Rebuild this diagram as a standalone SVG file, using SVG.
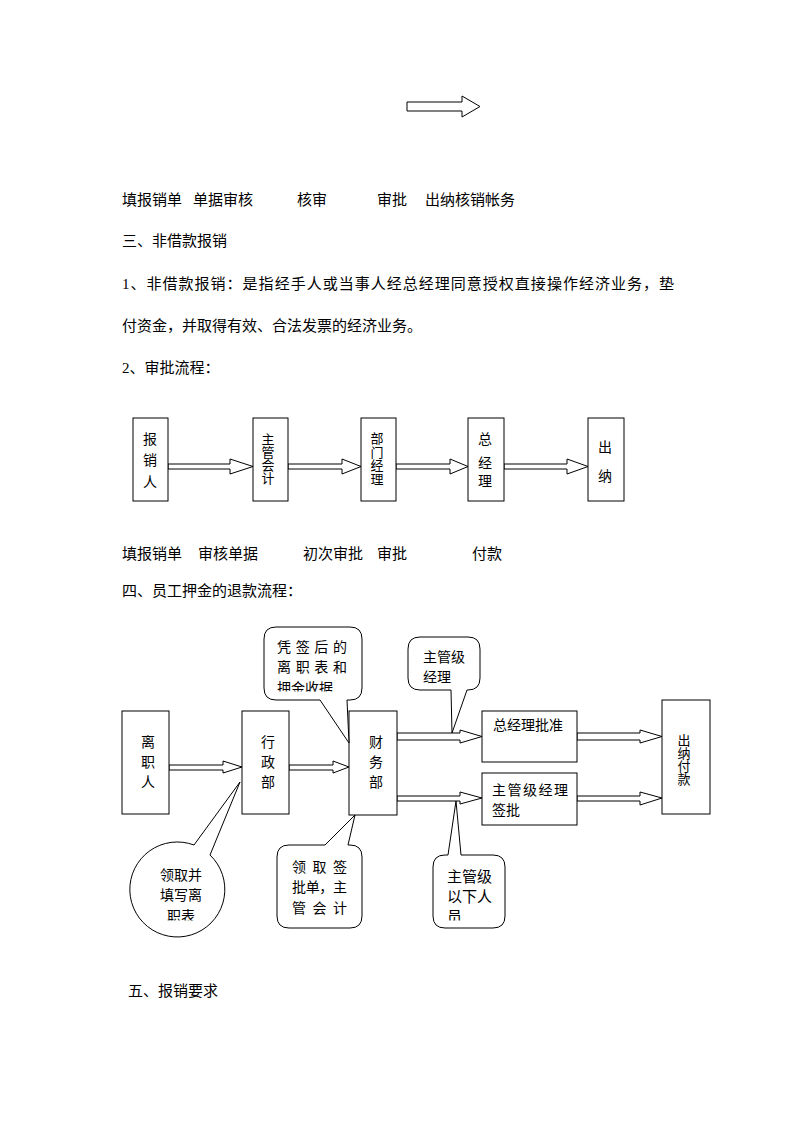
<svg xmlns="http://www.w3.org/2000/svg" width="793" height="1122" viewBox="0 0 793 1122">
<style>
.t{font-family:"Liberation Serif","Noto Sans CJK SC",serif;font-size:15px;fill:#000}
.s{font-size:14px}
.xs{font-size:13px}
.m{text-anchor:middle}
.box{fill:#fff;stroke:#000;stroke-width:1}
.arr{fill:#fff;stroke:#000;stroke-width:1}
.co{fill:#fff;stroke:#000;stroke-width:1}
</style>
<defs>
<clipPath id="clip1"><rect x="260" y="620" width="110" height="71.5"/></clipPath>
<clipPath id="clip3"><rect x="130" y="840" width="110" height="80.5"/></clipPath>
<clipPath id="clip5"><rect x="430" y="850" width="80" height="70.5"/></clipPath>
</defs>
<rect width="793" height="1122" fill="#fff"/>

<g id="top-arrow">
<path class="arr" d="M407,102 H462 V96 L480,106.5 L462,117 V111 H407 Z"/>
</g>

<g id="texts">
<text class="t" x="122" y="205">填报销单</text>
<text class="t" x="193" y="205">单据审核</text>
<text class="t" x="297" y="205">核审</text>
<text class="t" x="377" y="205">审批</text>
<text class="t" x="425" y="205">出纳核销帐务</text>
<text class="t" x="122" y="246">三、非借款报销</text>
<text class="t" x="122" y="289" textLength="552" lengthAdjust="spacing">1、非借款报销：是指经手人或当事人经总经理同意授权直接操作经济业务，垫</text>
<text class="t" x="122" y="331">付资金，并取得有效、合法发票的经济业务。</text>
<text class="t" x="122" y="373">2、审批流程：</text>
<text class="t" x="122" y="559">填报销单</text>
<text class="t" x="198" y="559">审核单据</text>
<text class="t" x="303" y="559">初次审批</text>
<text class="t" x="377" y="559">审批</text>
<text class="t" x="472" y="559">付款</text>
<text class="t" x="122" y="596">四、员工押金的退款流程：</text>
<text class="t" x="128" y="996">五、报销要求</text>
</g>

<g id="connectors">
<path class="arr" d="M168,464 H230 V459 L253,466.5 L230,474 V469 H168 Z"/>
<path class="arr" d="M288,464 H342 V459 L361,466.5 L342,474 V469 H288 Z"/>
<path class="arr" d="M396,464 H450 V459 L468,466.5 L450,474 V469 H396 Z"/>
<path class="arr" d="M504,464 H567 V459 L588,466.5 L567,474 V469 H504 Z"/>
<path class="arr" d="M169,765 H223 V761 L242,767 L223,773 V770 H169 Z"/>
<path class="arr" d="M289,765 H333 V761 L349,767 L333,773 V770 H289 Z"/>
<path class="arr" d="M397,733 H460 V730 L482,736.5 L460,743 V740 H397 Z"/>
<path class="arr" d="M397,796 H460 V792 L482,798 L460,804 V801 H397 Z"/>
<path class="arr" d="M577,733 H640 V730 L662,736.5 L640,743 V740 H577 Z"/>
<path class="arr" d="M577,796 H640 V792 L662,798 L640,805 V801 H577 Z"/>
</g>

<g id="n-baoxiaoren">
<rect class="box" x="133" y="418" width="35" height="83"/>
<text class="t s m" x="150" y="444">报</text>
<text class="t s m" x="150" y="465">销</text>
<text class="t s m" x="150" y="487">人</text>
</g>
<g id="n-zhuguankuaiji">
<rect class="box" x="253" y="418" width="35" height="83"/>
<text class="t xs m" x="268" y="444">主</text>
<text class="t xs m" x="268" y="457">管</text>
<text class="t xs m" x="268" y="470">会</text>
<text class="t xs m" x="268" y="483">计</text>
</g>
<g id="n-bumenjingli">
<rect class="box" x="361" y="418" width="35" height="83"/>
<text class="t xs m" x="377" y="443">部</text>
<text class="t xs m" x="377" y="457">门</text>
<text class="t xs m" x="377" y="470">经</text>
<text class="t xs m" x="377" y="484">理</text>
</g>
<g id="n-zongjingli">
<rect class="box" x="468" y="418" width="36" height="83"/>
<text class="t s m" x="485" y="444">总</text>
<text class="t s m" x="485" y="468">经</text>
<text class="t s m" x="485" y="486">理</text>
</g>
<g id="n-chuna">
<rect class="box" x="588" y="418" width="36" height="83"/>
<text class="t s m" x="605" y="452">出</text>
<text class="t s m" x="605" y="481">纳</text>
</g>

<g id="n-lizhiren">
<rect class="box" x="122" y="711" width="47" height="103"/>
<text class="t s m" x="148" y="747">离</text>
<text class="t s m" x="148" y="767">职</text>
<text class="t s m" x="148" y="787">人</text>
</g>
<g id="n-xingzhengbu">
<rect class="box" x="242" y="711" width="47" height="103"/>
<text class="t s m" x="268" y="747">行</text>
<text class="t s m" x="268" y="767">政</text>
<text class="t s m" x="268" y="787">部</text>
</g>
<g id="n-caiwubu">
<rect class="box" x="349" y="711" width="48" height="104"/>
<text class="t s m" x="376" y="747">财</text>
<text class="t s m" x="376" y="767">务</text>
<text class="t s m" x="376" y="787">部</text>
</g>
<g id="n-zongjinglipizhun">
<rect class="box" x="482" y="711" width="95" height="51"/>
<text class="t s" x="493" y="730">总经理批准</text>
</g>
<g id="n-zhuguanjijinglipi">
<rect class="box" x="482" y="773" width="95" height="52"/>
<text class="t s" x="492" y="795" textLength="76" lengthAdjust="spacing">主管级经理</text>
<text class="t s" x="492" y="815">签批</text>
</g>
<g id="n-chunafukuan">
<rect class="box" x="662" y="700" width="48" height="114"/>
<text class="t xs m" x="684" y="745">出</text>
<text class="t xs m" x="684" y="758">纳</text>
<text class="t xs m" x="684" y="771">付</text>
<text class="t xs m" x="684" y="784">款</text>
</g>

<g id="callout-pingqian">
<path class="co" d="M276,627 H350 Q362,627 362,639 V688 Q362,700 350,700 H347 L349,743 L320,700 H276 Q264,700 264,688 V639 Q264,627 276,627 Z"/>
<text class="t s" x="277" y="652" textLength="70" lengthAdjust="spacing">凭签后的</text>
<text class="t s" x="277" y="672" textLength="70" lengthAdjust="spacing">离职表和</text>
<text class="t s" x="277" y="693" clip-path="url(#clip1)">押金收据</text>
</g>
<g id="callout-zhuguanjijingli">
<path class="co" d="M420,637 H468 Q480,637 480,649 V678 Q480,690 468,690 H467 L452,733 L451,690 H420 Q408,690 408,678 V649 Q408,637 420,637 Z"/>
<text class="t s" x="423" y="662">主管级</text>
<text class="t s" x="423" y="682">经理</text>
</g>
<g id="callout-lingqu">
<path class="co" d="M194,845 L240,782 L210,855 A47.5,47.5 0 1 1 194,845 Z"/>
<text class="t s m" x="181" y="880">领取并</text>
<text class="t s m" x="181" y="900">填写离</text>
<text class="t s m" x="181" y="921" clip-path="url(#clip3)">职表</text>
</g>
<g id="callout-lingququanpidan">
<path class="co" d="M289,845 H325 L355,815 L348,845 H350 Q362,845 362,857 V916 Q362,928 350,928 H289 Q277,928 277,916 V857 Q277,845 289,845 Z"/>
<text class="t s" x="292" y="872" textLength="55" lengthAdjust="spacing">领取签</text>
<text class="t s" x="292" y="892" textLength="55" lengthAdjust="spacing">批单，主</text>
<text class="t s" x="292" y="913" textLength="55" lengthAdjust="spacing">管会计</text>
</g>
<g id="callout-yixiarenyuan">
<path class="co" d="M445,855 H448 L456,801 L461,855 H493 Q505,855 505,867 V916 Q505,928 493,928 H445 Q433,928 433,916 V867 Q433,855 445,855 Z"/>
<text class="t" x="447" y="882">主管级</text>
<text class="t" x="447" y="902">以下人</text>
<text class="t" x="447" y="922" clip-path="url(#clip5)">员</text>
</g>
</svg>
